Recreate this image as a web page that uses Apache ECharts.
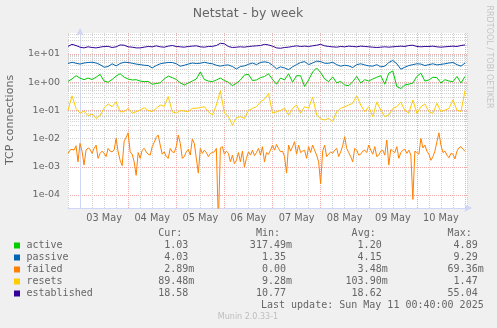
<!DOCTYPE html>
<html><head><meta charset="utf-8">
<script src="https://cdn.jsdelivr.net/npm/echarts@6/dist/echarts.min.js"></script>
<style>html,body{margin:0;padding:0;background:#f0f0f0}#c{width:497px;height:328px}</style>
</head><body><div id="c"></div>
<script>
// ---------- chart data ----------
const seriesNames = ['active', 'passive', 'failed', 'resets', 'established'];
const seriesColors = ['#00CC00', '#0066B3', '#FF8000', '#FFCC00', '#330099'];
const dayLabels = ['03 May', '04 May', '05 May', '06 May', '07 May', '08 May', '09 May', '10 May'];
const yTickLabels = { '-4': '1e-04', '-3': '1e-03', '-2': '1e-02', '-1': '1e-01', '0': '1e+00', '1': '1e+01' };

// hours relative to 03 May 00:00; coarse series every 2h, failed every 1h
const coarseStartHour = -6, coarseStepHours = 2;
const fineStartHour = -6, fineStepHours = 1;

const active = [1.07,1.3,1.7,1.4,1.23,1.4,1.25,1.5,1.9,1.1,
1.0,1.25,1.65,2.0,1.5,1.3,1.2,1.23,1.1,1.05,
1.07,0.85,0.9,0.95,1.3,1.65,1.45,1.25,0.95,0.8,
0.94,1.1,1.3,2.3,1.25,1.1,1.05,1.2,1.4,1.15,
1.0,0.76,0.92,1.2,1.8,1.9,1.15,1.2,1.45,1.6,
2.0,1.25,0.85,1.4,1.2,2.0,1.0,1.7,1.7,0.71,
1.2,2.3,3.2,2.2,1.3,1.05,1.55,0.95,1.07,0.8,
0.75,1.05,1.6,0.94,1.23,1.1,1.3,1.5,1.7,0.85,
2.1,2.5,0.7,0.6,0.8,0.85,0.94,1.6,2.1,1.1,
1.2,1.5,1.45,0.94,1.23,1.1,1.05,1.6,0.94,1.6];

const passive = [4.6,5.1,4.7,4.4,4.8,5.0,5.1,4.8,4.2,3.4,
3.6,4.5,3.8,4.6,5.1,5.0,4.7,4.4,4.2,4.0,
3.9,3.2,3.9,4.5,4.8,5.0,5.0,4.5,3.7,4.0,
4.4,4.8,4.6,4.7,5.1,4.7,4.5,4.0,3.7,4.0,
4.1,3.6,2.95,3.6,3.8,4.3,4.8,4.2,5.0,5.3,
5.0,4.0,3.0,3.5,3.2,2.8,3.5,4.2,5.0,5.4,
4.2,4.8,5.6,5.4,4.7,4.7,5.1,4.2,3.7,4.0,
3.8,3.3,4.2,4.5,4.1,3.8,3.7,4.2,3.5,3.7,
5.0,5.9,4.5,2.9,3.4,3.9,4.2,4.5,4.4,3.9,
4.2,4.5,4.1,4.3,4.5,4.8,5.0,4.2,3.7,4.8];

const failed = [0.003,0.0039,0.0042,0.0039,0.0056,0.0015,0.0068,0.0036,0.00116,0.0039,
0.0047,0.0042,0.003,0.0045,0.0059,0.002,0.003,0.0036,0.003,0.0023,
0.0045,0.0036,0.0034,0.0039,0.0102,0.0034,0.0017,0.0011,0.008,0.011,
0.016,0.0034,0.0028,0.0015,0.0005,0.0032,0.002,0.0039,0.0045,0.0034,
0.0028,0.0026,0.0052,0.0074,0.011,0.0134,0.0059,0.0028,0.0034,0.0023,
0.002,0.0045,0.0034,0.0032,0.0052,0.0134,0.0068,0.002,0.0023,0.0034,
0.0042,0.0026,0.0097,0.0068,0.002,0.0006,0.0045,0.003,0.0039,0.0032,
0.0023,0.003,0.0032,0.0034,0.0045,0.00001,0.0047,0.0052,0.0028,0.0036,
0.003,0.0015,0.0026,0.0013,0.0017,0.0032,0.0015,0.0036,0.001,0.002,
0.0034,0.0026,0.0039,0.0025,0.0032,0.0045,0.0026,0.0052,0.0015,0.0032,
0.0028,0.0039,0.0059,0.0039,0.0062,0.0045,0.0034,0.0036,0.0023,0.0006,
0.0059,0.0036,0.0052,0.0078,0.0028,0.0059,0.0032,0.0036,0.0039,0.002,
0.0052,0.0032,0.0059,0.0039,0.0026,0.0015,0.00025,0.0036,0.0059,0.0023,
0.0028,0.0034,0.003,0.0039,0.0045,0.0023,0.0034,0.0056,0.0117,0.0045,
0.0032,0.0023,0.0015,0.0045,0.0039,0.0026,0.0028,0.0036,0.0039,0.0032,
0.0059,0.0039,0.0028,0.0052,0.0023,0.0026,0.0036,0.0039,0.0026,0.0089,
0.00116,0.0042,0.0036,0.0032,0.0052,0.002,0.0032,0.0039,0.0042,0.003,
0.0039,0.0026,0.00007,0.0036,0.0032,0.0028,0.0102,0.0047,0.0059,0.0036,
0.0028,0.0017,0.0023,0.0036,0.0078,0.016,0.0059,0.0032,0.0036,0.0026,
0.0021,0.003,0.0028,0.0019,0.0036,0.0047,0.0052,0.0042,0.0036];

const resets = [0.1,0.33,0.118,0.08,0.095,0.065,0.075,0.052,0.065,0.12,
0.17,0.135,0.2,0.09,0.09,0.118,0.08,0.09,0.103,0.125,
0.1,0.09,0.118,0.155,0.14,0.31,0.09,0.08,0.1,0.095,
0.09,0.118,0.12,0.125,0.135,0.09,0.069,0.155,0.5,0.08,
0.06,0.03,0.055,0.06,0.052,0.1,0.118,0.135,0.2,0.25,
0.4,0.08,0.09,0.1,0.12,0.069,0.118,0.155,0.08,0.135,
0.12,0.3,0.069,0.05,0.046,0.052,0.04,0.09,0.118,0.135,
0.155,0.18,0.33,0.155,0.09,0.135,0.06,0.2,0.103,0.06,
0.07,0.118,0.135,0.2,0.1,0.08,0.235,0.079,0.135,0.17,
0.09,0.079,0.18,0.09,0.103,0.118,0.235,0.103,0.09,0.5];

const established = [18.7,22,20,17.5,16.5,18,17,16.5,17.5,18.5,
18.7,17,18,21,20.5,18,17.5,16.5,16.5,17.5,
18.5,18,19.5,18,17.5,19,20,18.5,18,17.5,
18.5,19,19.5,18,17.5,18.5,18.7,20,24,23,
18.5,17,17.5,18,17.5,18.5,19,19.5,20,22,
21,19,16.5,16,17,17.5,18.5,19.5,18.5,19,
18.5,19.5,20.5,22,19.5,18.5,18,17.5,18.5,18,
19,18.5,18,19,18.5,18,17.5,17,17.5,18,
17.5,18,18.5,19,18.5,20,20.5,18.5,18,18.5,
18.5,19,18,17.5,18,18.5,19,18.5,20,21];

const curVals = ['1.03', '4.03', '2.89m', '89.48m', '18.58'];
const minVals = ['317.49m', '1.35', '0.00', '9.28m', '10.77'];
const avgVals = ['1.20', '4.15', '3.48m', '103.90m', '18.62'];
const maxVals = ['4.89', '9.29', '69.36m', '1.47', '55.04'];
const lastUpdate = 'Last update: Sun May 11 00:40:00 2025';

// ---------- rendering ----------
function pairs(vals, start, step) { return vals.map((v, i) => [start + i * step, v]); }
const seriesValues = [
  pairs(active, coarseStartHour, coarseStepHours),
  pairs(passive, coarseStartHour, coarseStepHours),
  pairs(failed, fineStartHour, fineStepHours),
  pairs(resets, coarseStartHour, coarseStepHours),
  pairs(established, coarseStartHour, coarseStepHours)
];

const yMin = Math.pow(10, -4.46), yMax = Math.pow(10, 1.745);
const minorLines = [];
for (let e = -5; e <= 1; e++) for (let k = 2; k <= 9; k++) {
  const v = k * Math.pow(10, e);
  if (v > yMin && v < yMax) minorLines.push({ yAxis: v });
}

const GRID = '#d2d2d2', MGRID = '#efaaaa', FONT = '#666666', AXIS = '#cfd6f8';
const chart = echarts.init(document.getElementById('c'), null, { renderer: 'canvas' });

const series = seriesNames.map((n, i) => ({
  name: n, type: 'line', data: seriesValues[i], showSymbol: false, symbol: 'none',
  lineStyle: { width: 1, color: seriesColors[i] }, itemStyle: { color: seriesColors[i] },
  clip: true, z: 3, animation: false
}));
series.unshift({
  type: 'line', data: [], silent: true, z: 1,
  markLine: { silent: true, symbol: 'none', animation: false, z: 1,
    label: { show: false }, lineStyle: { color: GRID, type: 'dotted', width: 1 },
    data: minorLines }
});

const mono = '10px "DejaVu Sans Mono"';
const graphics = [];
graphics.push({ type: 'text', x: 248, y: 13.5, style: { text: 'Netstat - by week', font: '12.5px "DejaVu Sans"', fill: FONT, textAlign: 'center', textVerticalAlign: 'middle' } });
graphics.push({ type: 'text', x: 10.5, y: 120, rotation: Math.PI / 2, style: { text: 'TCP connections', font: '11px "DejaVu Sans"', fill: FONT, textAlign: 'center', textVerticalAlign: 'middle' } });
graphics.push({ type: 'text', x: 489, y: 57, rotation: -Math.PI / 2, style: { text: 'RRDTOOL / TOBI OETIKER', font: '8px "DejaVu Sans"', fill: '#c4c4c4', textAlign: 'center', textVerticalAlign: 'middle' } });
graphics.push({ type: 'text', x: 248, y: 317, style: { text: 'Munin 2.0.33-1', font: '8px "DejaVu Sans"', fill: '#bdbdbd', textAlign: 'center', textVerticalAlign: 'middle' } });
const colRight = [194.3, 292, 387.7, 483.7];
['Cur:', 'Min:', 'Avg:', 'Max:'].forEach((h, i) => {
  graphics.push({ type: 'text', x: colRight[i] - 12, y: 233.5, style: { text: h, font: mono, fill: FONT, textAlign: 'right', textVerticalAlign: 'middle' } });
});
const cols = [curVals, minVals, avgVals, maxVals];
seriesNames.forEach((n, r) => {
  const y = 245.5 + 12 * r;
  graphics.push({ type: 'rect', shape: { x: 14, y: y - 3, width: 6, height: 6 }, style: { fill: seriesColors[r] } });
  graphics.push({ type: 'text', x: 26.5, y: y, style: { text: n, font: mono, fill: FONT, textAlign: 'left', textVerticalAlign: 'middle' } });
  cols.forEach((c, i) => {
    const s = c[r].endsWith('m') ? c[r] : c[r] + ' ';
    graphics.push({ type: 'text', x: colRight[i], y: y, style: { text: s, font: mono, fill: FONT, textAlign: 'right', textVerticalAlign: 'middle' } });
  });
});
graphics.push({ type: 'text', x: 483.7, y: 305.5, style: { text: lastUpdate, font: mono, fill: FONT, textAlign: 'right', textVerticalAlign: 'middle' } });

chart.setOption({
  backgroundColor: '#f0f0f0',
  animation: false,
  grid: { left: 68, top: 33, width: 399, height: 175, show: true, backgroundColor: '#ffffff', borderWidth: 0 },
  xAxis: {
    type: 'value', min: -6, max: 193, interval: 6,
    axisLine: { show: true, lineStyle: { color: AXIS, width: 1 }, symbol: ['none', 'arrow'], symbolSize: [6, 8], symbolOffset: [0, 5] },
    axisTick: { show: false },
    axisLabel: { interval: 0, hideOverlap: false, margin: 5, fontSize: 9.75, fontFamily: 'DejaVu Sans', color: FONT,
      formatter: v => (((v % 24) + 24) % 24 === 12 ? (dayLabels[(v - 12) / 24] || '') : '') },
    splitLine: { show: true, lineStyle: { color: [GRID, MGRID, GRID, GRID], type: 'dotted', width: 1 } }
  },
  yAxis: {
    type: 'log', logBase: 10, min: yMin, max: yMax,
    axisLine: { show: true, lineStyle: { color: AXIS, width: 1 }, symbol: ['none', 'arrow'], symbolSize: [6, 8], symbolOffset: [0, 5] },
    axisTick: { show: false },
    axisLabel: { showMinLabel: false, showMaxLabel: false, margin: 8, fontSize: 9.5, fontFamily: 'DejaVu Sans', color: FONT,
      formatter: v => { const e = Math.log10(v); const r = Math.round(e); return Math.abs(e - r) < 1e-6 ? (yTickLabels[String(r)] || '') : ''; } },
    splitLine: { show: true, showMinLine: false, showMaxLine: false, lineStyle: { color: MGRID, type: 'dotted', width: 1 } }
  },
  series: series,
  graphic: graphics
});
</script></body></html>
